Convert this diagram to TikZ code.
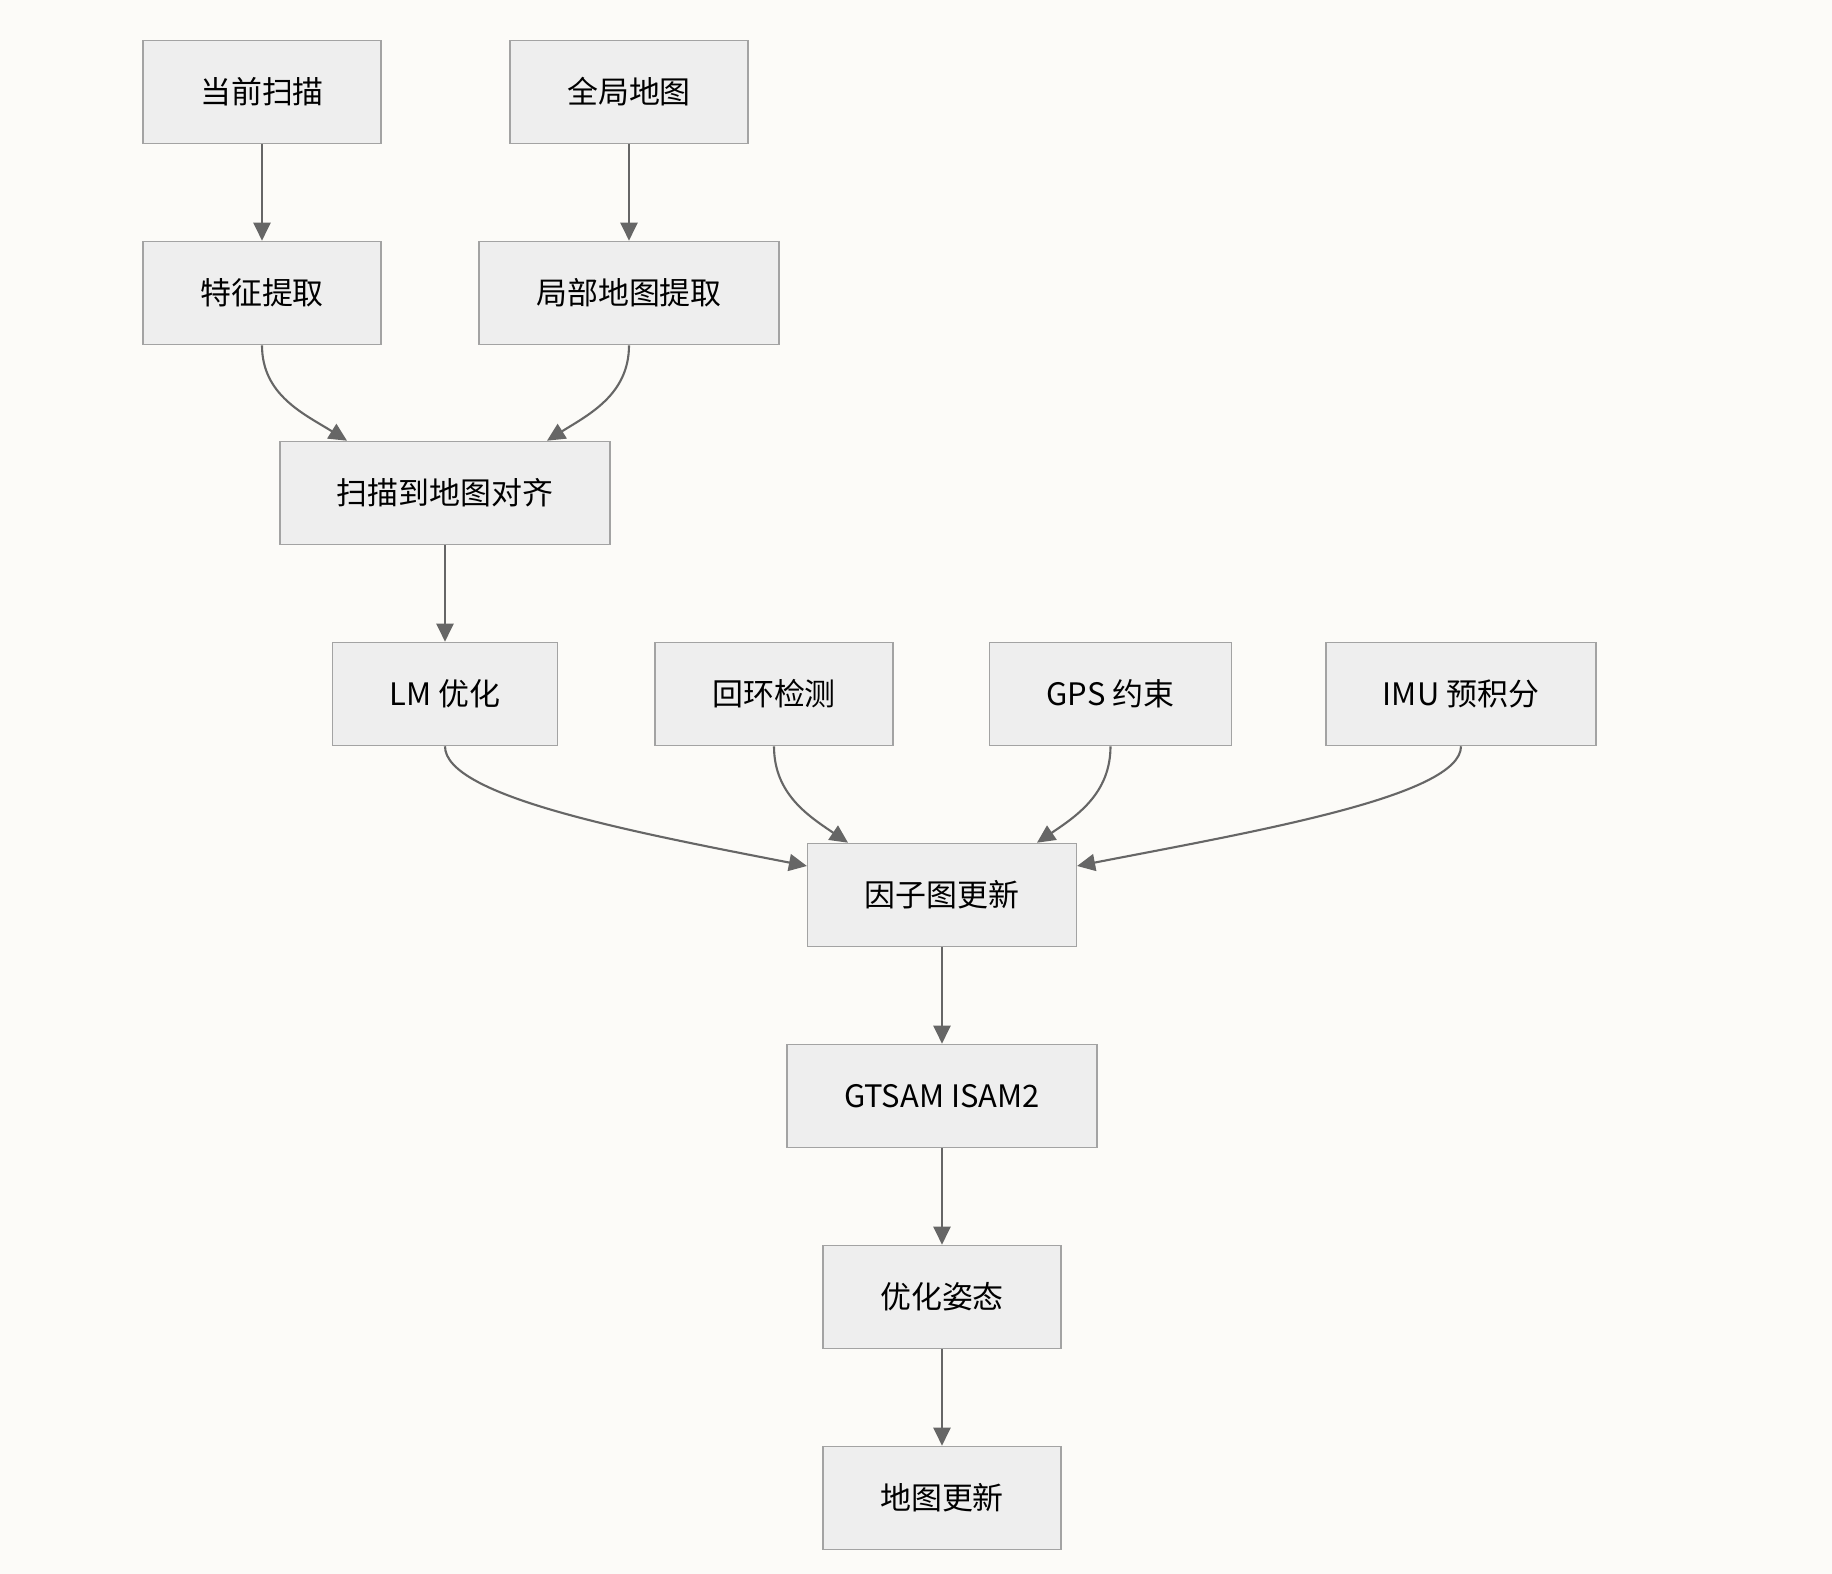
\documentclass[tikz,border=0pt]{standalone}
\usepackage{fontspec}
\newfontfamily\cjk{Noto Sans CJK SC}
\usepackage{tikz}
\usetikzlibrary{arrows.meta,positioning}
\definecolor{pagebg}{HTML}{FCFBF8}
\definecolor{stagefill}{HTML}{EEEEEE}
\definecolor{stageline}{HTML}{A3A3A3}
\definecolor{linkgray}{HTML}{666666}

\begin{document}
\begin{tikzpicture}[
    stage/.style={draw=stageline, fill=stagefill, line width=0.45pt,
      minimum height=1.03cm, inner xsep=0.57cm, text=black,
      font=\cjk\fontsize{8.8}{10}\selectfont},
    link/.style={draw=linkgray, line width=0.6pt,
      -{Triangle[length=0.18cm,width=0.17cm]}}
  ]
    \fill[pagebg] (0,0) rectangle (18.32,-15.74);
    \useasboundingbox (0,0) rectangle (18.32,-15.74);

    % input side
    \node[stage] (scan) at (2.62,-0.92) {当前扫描};
    \node[stage] (gmap) at (6.29,-0.92) {全局地图};
    \node[stage] (feat) at (2.62,-2.93) {特征提取};
    \node[stage] (lmap) at (6.29,-2.93) {局部地图提取};
    \node[stage] (align) at (4.45,-4.93) {扫描到地图对齐};

    % factor sources
    \node[stage] (lmopt) at (4.45,-6.94) {LM 优化};
    \node[stage] (loop) at (7.74,-6.94) {回环检测};
    \node[stage] (gps) at (11.105,-6.94) {GPS 约束};
    \node[stage] (imu) at (14.61,-6.94) {IMU 预积分};

    % back end
    \node[stage] (fg) at (9.42,-8.95) {因子图更新};
    \node[stage] (isam) at (9.42,-10.96) {GTSAM ISAM2};
    \node[stage] (pose) at (9.42,-12.97) {优化姿态};
    \node[stage] (mapup) at (9.42,-14.98) {地图更新};

    \draw[link] (scan) -- (feat);
    \draw[link] (gmap) -- (lmap);
    \draw[link] (feat.south) to[out=-90,in=148] ([xshift=-0.98cm]align.north);
    \draw[link] (lmap.south) to[out=-90,in=32] ([xshift=1.02cm]align.north);
    \draw[link] (align) -- (lmopt);

    \draw[link] (lmopt.south) to[out=-90,in=169,out distance=0.5cm,in distance=1.8cm] ([yshift=0.29cm]fg.west);
    \draw[link] (loop.south) to[out=-90,in=146] ([xshift=-0.94cm]fg.north);
    \draw[link] (gps.south) to[out=-90,in=34] ([xshift=0.95cm]fg.north);
    \draw[link] (imu.south) to[out=-90,in=11,out distance=0.5cm,in distance=1.8cm] ([yshift=0.29cm]fg.east);

    \draw[link] (fg) -- (isam);
    \draw[link] (isam) -- (pose);
    \draw[link] (pose) -- (mapup);
\end{tikzpicture}
\end{document}
